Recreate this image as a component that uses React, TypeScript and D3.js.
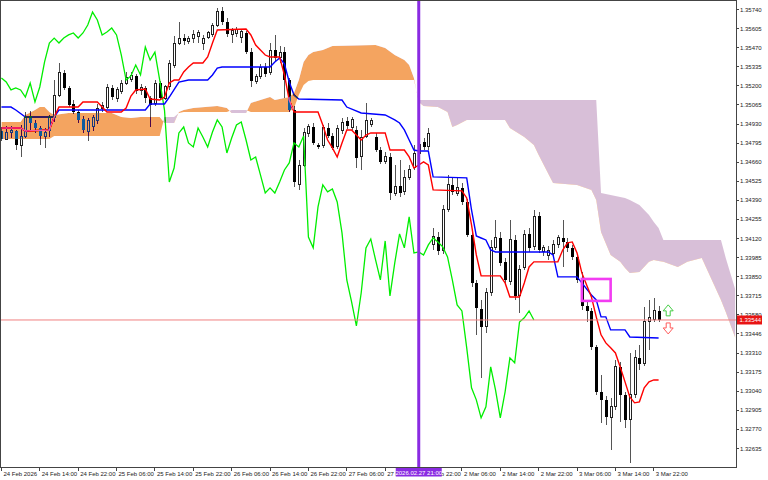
import * as d3 from "d3";

// H1 bars, 24 Feb 2026 06:00 .. 3 Mar 2026 23:00 (bar index 0..137)
const opens = [
  1.34881, 1.34824, 1.34867, 1.34881, 1.34775, 1.34845, 1.34987, 1.34937, 1.34902, 1.34845,
  1.34881, 1.34973, 1.35135, 1.35291, 1.35185, 1.35072, 1.35015, 1.34966, 1.34874, 1.34909,
  1.34952, 1.35043, 1.3505, 1.35185, 1.35114, 1.35157, 1.3522, 1.35248, 1.3527, 1.35164,
  1.35185, 1.35114, 1.35072, 1.3522, 1.35114, 1.35192, 1.35347, 1.35503, 1.35538, 1.35517,
  1.35538, 1.35552, 1.35496, 1.35545, 1.3556, 1.3563, 1.35729, 1.35651, 1.3556, 1.35567,
  1.35545, 1.35574, 1.35439, 1.35234, 1.35263, 1.35333, 1.35291, 1.35453, 1.35397, 1.35439,
  1.35241, 1.35029, 1.34499, 1.3464, 1.3486, 1.34909, 1.34782, 1.34775, 1.34902, 1.34845,
  1.34768, 1.34881, 1.34952, 1.34902, 1.34888, 1.34697, 1.34845, 1.3493, 1.34838, 1.34746,
  1.34662, 1.34697, 1.34442, 1.34492, 1.3445, 1.34549, 1.34619, 1.34725, 1.34803, 1.34768,
  1.34075, 1.34131, 1.34032, 1.34322, 1.34499, 1.34442, 1.34478, 1.34379, 1.34146, 1.33806,
  1.33622, 1.33495, 1.33735, 1.34054, 1.34124, 1.33955, 1.33813, 1.3411, 1.33714, 1.33912,
  1.34153, 1.34061, 1.3428, 1.34025, 1.33997, 1.34011, 1.34075, 1.34124, 1.34096, 1.34054,
  1.3399, 1.33827, 1.33644, 1.33608, 1.33354, 1.33036, 1.32979, 1.32852, 1.3293, 1.33212,
  1.33014, 1.32838, 1.33014, 1.33276, 1.33234, 1.3353, 1.33545, 1.33608,
];
const highs = [
  1.34909, 1.34916, 1.34916, 1.34888, 1.34923, 1.35015, 1.35022, 1.34959, 1.34916, 1.34902,
  1.34994, 1.35241, 1.35362, 1.35312, 1.35199, 1.351, 1.35029, 1.34987, 1.34973, 1.34994,
  1.35072, 1.35086, 1.35213, 1.35206, 1.35192, 1.35241, 1.35298, 1.35298, 1.35284, 1.35213,
  1.35199, 1.35128, 1.35241, 1.35234, 1.35206, 1.35383, 1.35552, 1.35651, 1.35567, 1.35552,
  1.35595, 1.35595, 1.3556, 1.35588, 1.35644, 1.3575, 1.35758, 1.3568, 1.35609, 1.35616,
  1.35602, 1.35588, 1.35468, 1.35284, 1.35355, 1.35362, 1.35503, 1.3556, 1.35482, 1.35475,
  1.35256, 1.35058, 1.34676, 1.34902, 1.3493, 1.34937, 1.34796, 1.34923, 1.34937, 1.34867,
  1.34923, 1.34973, 1.3498, 1.3498, 1.34916, 1.34888, 1.35079, 1.34973, 1.34867, 1.34768,
  1.34732, 1.34725, 1.3464, 1.34676, 1.34605, 1.3464, 1.34782, 1.34817, 1.34831, 1.34902,
  1.34195, 1.34167, 1.34358, 1.3457, 1.34549, 1.34549, 1.34513, 1.344, 1.34167, 1.33827,
  1.33686, 1.33771, 1.3411, 1.34252, 1.34167, 1.33983, 1.34252, 1.34146, 1.33933, 1.34181,
  1.34195, 1.34322, 1.34308, 1.34075, 1.34068, 1.3411, 1.34146, 1.34252, 1.34124, 1.34075,
  1.34011, 1.33884, 1.33686, 1.33629, 1.33368, 1.33156, 1.33007, 1.32993, 1.33262, 1.33248,
  1.33036, 1.33311, 1.33332, 1.33368, 1.33636, 1.33686, 1.337, 1.33644,
];
const lows = [
  1.3481, 1.34817, 1.34831, 1.34746, 1.34697, 1.34831, 1.34888, 1.34867, 1.34782, 1.34761,
  1.34838, 1.34944, 1.35121, 1.35171, 1.3505, 1.35001, 1.34937, 1.34867, 1.3481, 1.34881,
  1.3493, 1.35015, 1.35036, 1.351, 1.35086, 1.35142, 1.35206, 1.35227, 1.35142, 1.35135,
  1.35079, 1.34909, 1.35058, 1.351, 1.351, 1.35171, 1.35326, 1.35489, 1.35489, 1.35496,
  1.35503, 1.35503, 1.35453, 1.35531, 1.35545, 1.35616, 1.3563, 1.35545, 1.35503, 1.35545,
  1.35503, 1.35425, 1.35192, 1.35213, 1.35248, 1.35263, 1.35277, 1.35369, 1.35362, 1.35114,
  1.35015, 1.34485, 1.34464, 1.34626, 1.34838, 1.34782, 1.34754, 1.34761, 1.34831, 1.34746,
  1.34754, 1.3486, 1.34895, 1.34888, 1.34619, 1.34605, 1.34831, 1.34909, 1.34732, 1.34648,
  1.34648, 1.34393, 1.34421, 1.34414, 1.34428, 1.34534, 1.34605, 1.34711, 1.34746, 1.34746,
  1.34039, 1.34004, 1.34011, 1.34308, 1.34428, 1.34421, 1.34358, 1.34131, 1.33778, 1.33439,
  1.33135, 1.33453, 1.33714, 1.34039, 1.33926, 1.33792, 1.33792, 1.33686, 1.33594, 1.33898,
  1.34025, 1.34039, 1.34018, 1.33997, 1.33969, 1.33983, 1.34054, 1.33919, 1.34025, 1.33969,
  1.33806, 1.33615, 1.3353, 1.33332, 1.33014, 1.32816, 1.32802, 1.32625, 1.32908, 1.32823,
  1.32781, 1.32534, 1.32993, 1.33191, 1.33219, 1.33332, 1.3353, 1.3353,
];
const closes = [
  1.34824, 1.34867, 1.34881, 1.34782, 1.34845, 1.34973, 1.34937, 1.34902, 1.34845, 1.34867,
  1.34973, 1.35135, 1.35291, 1.35185, 1.35065, 1.35015, 1.34959, 1.34888, 1.34952, 1.34973,
  1.35043, 1.35058, 1.35185, 1.35121, 1.35171, 1.3522, 1.35256, 1.3527, 1.35164, 1.35185,
  1.35114, 1.35065, 1.3522, 1.35114, 1.35192, 1.35355, 1.35503, 1.35538, 1.35517, 1.35538,
  1.3556, 1.35574, 1.35538, 1.35574, 1.3563, 1.35729, 1.35651, 1.35567, 1.35588, 1.35602,
  1.35581, 1.35439, 1.35234, 1.35263, 1.35333, 1.35284, 1.35453, 1.35397, 1.35439, 1.35241,
  1.35029, 1.3452, 1.3464, 1.34867, 1.34909, 1.34796, 1.34768, 1.34902, 1.34845, 1.34761,
  1.34895, 1.34944, 1.34916, 1.34959, 1.3469, 1.34838, 1.34952, 1.34952, 1.34746, 1.34662,
  1.34697, 1.34442, 1.34485, 1.34442, 1.34549, 1.34605, 1.34725, 1.34782, 1.34768, 1.3486,
  1.34131, 1.34032, 1.34322, 1.34499, 1.3445, 1.34478, 1.34379, 1.34146, 1.33806, 1.33629,
  1.33495, 1.33735, 1.34054, 1.34124, 1.33948, 1.33827, 1.3411, 1.33714, 1.33898, 1.34146,
  1.34054, 1.34273, 1.34039, 1.34054, 1.34032, 1.34075, 1.34124, 1.34096, 1.34054, 1.3399,
  1.33827, 1.33644, 1.33608, 1.33354, 1.33036, 1.32979, 1.32859, 1.3293, 1.33212, 1.33014,
  1.32838, 1.33014, 1.33276, 1.33234, 1.3353, 1.33559, 1.33608, 1.33544,
];

// Chikou span as drawn (bars 0..111)
const chikou = [
  1.35256, 1.35227, 1.35171, 1.35185, 1.35171, 1.35121, 1.3522, 1.35086, 1.35192, 1.35369,
  1.35503, 1.35538, 1.35503, 1.35538, 1.3556, 1.35574, 1.35538, 1.35574, 1.3563, 1.35722,
  1.35666, 1.3556, 1.35581, 1.35609, 1.3556, 1.35418, 1.35241, 1.3527, 1.35347, 1.35277,
  1.35475, 1.35383, 1.35439, 1.35241, 1.35029, 1.3452, 1.34619, 1.34867, 1.34909, 1.34796,
  1.34768, 1.34902, 1.34838, 1.34768, 1.34874, 1.34959, 1.34909, 1.34725, 1.34831, 1.34923,
  1.34944, 1.34817, 1.34676, 1.34697, 1.3457, 1.34442, 1.34478, 1.34442, 1.3452, 1.34605,
  1.34655, 1.34796, 1.34768, 1.34845, 1.34131, 1.34054, 1.34344, 1.34499, 1.3445, 1.34471,
  1.34379, 1.3416, 1.33827, 1.33672, 1.33502, 1.33735, 1.34054, 1.34117, 1.33969, 1.33827,
  1.34103, 1.33714, 1.33948, 1.34153, 1.34054, 1.34273, 1.34018, 1.34025, 1.34004, 1.34075,
  1.34124, 1.34096, 1.34061, 1.3399, 1.33827, 1.33651, 1.33608, 1.33347, 1.33064, 1.32979,
  1.32852, 1.3293, 1.33212, 1.3305, 1.32852, 1.33036, 1.33276, 1.33241, 1.3353, 1.33559,
  1.33608, 1.33544,
];

// Tenkan-sen [bar, price] vertices
const tenkan = [
  [0, 1.34902], [4, 1.34902], [5, 1.34881], [10, 1.34888], [11, 1.3498], [12, 1.3505],
  [16, 1.3505], [17, 1.35086], [20, 1.35086], [21, 1.3505], [22, 1.35015], [25, 1.35015],
  [26, 1.35043], [27, 1.35128], [28, 1.35171], [30, 1.35178], [31, 1.35107], [33, 1.351],
  [34, 1.35121], [35, 1.3522], [36, 1.35241], [37, 1.35241], [38, 1.35298], [39, 1.35333],
  [40, 1.35362], [42, 1.35362], [43, 1.35404], [44, 1.35503], [45, 1.35595], [51, 1.35602],
  [52, 1.3556], [53, 1.35489], [54, 1.35453], [55, 1.35418], [56, 1.35404], [58, 1.35404],
  [59, 1.35277], [60, 1.351], [61, 1.35015], [66, 1.35015], [67, 1.34923], [68, 1.34817],
  [69, 1.34761], [70, 1.34697], [71, 1.34796], [72, 1.34888], [73, 1.34888], [74, 1.34852],
  [75, 1.34817], [76, 1.34852], [77, 1.34867], [80, 1.34867], [81, 1.34746], [84, 1.34746],
  [85, 1.34697], [86, 1.34619], [87, 1.3464], [88, 1.34662], [89, 1.3464], [90, 1.34464],
  [96, 1.34457], [97, 1.34407], [98, 1.34216], [99, 1.34004], [100, 1.33856], [104, 1.33856],
  [105, 1.33806], [106, 1.33707], [108, 1.33707], [109, 1.33806], [110, 1.33919], [111, 1.33955],
  [116, 1.33955], [117, 1.34039], [118, 1.34089], [119, 1.34096], [120, 1.34018], [121, 1.33877],
  [122, 1.33792], [123, 1.33707], [124, 1.33566], [125, 1.33439], [126, 1.33382], [127, 1.33347],
  [128, 1.33311], [129, 1.33212], [130, 1.33106], [131, 1.33], [132, 1.32958], [133, 1.32965],
  [134, 1.33064], [135, 1.33106], [136, 1.3312], [137, 1.3312],
];

// Kijun-sen [bar, price] vertices
const kijun = [
  [0, 1.3505], [2, 1.3505], [3, 1.35029], [5, 1.3498], [11, 1.3498], [12, 1.35029],
  [30, 1.35029], [31, 1.35072], [34, 1.35072], [35, 1.35121], [37, 1.35227], [39, 1.35241],
  [43, 1.35241], [44, 1.35277], [45, 1.35326], [46, 1.35333], [56, 1.35333], [57, 1.35369],
  [58, 1.35397], [59, 1.35355], [60, 1.35227], [61, 1.35135], [62, 1.35107], [71, 1.351],
  [72, 1.3505], [75, 1.35008], [80, 1.34994], [82, 1.34959], [83, 1.34937], [84, 1.34888],
  [85, 1.34817], [86, 1.34746], [87, 1.34739], [89, 1.34739], [90, 1.34556], [97, 1.34549],
  [98, 1.34322], [99, 1.34138], [100, 1.34124], [101, 1.3411], [102, 1.34039], [103, 1.34025],
  [114, 1.34025], [115, 1.34004], [116, 1.33849], [120, 1.33849], [121, 1.33806], [123, 1.33721],
  [124, 1.33686], [125, 1.33566], [126, 1.33566], [127, 1.33474], [130, 1.33474], [131, 1.33424],
  [137, 1.33417],
];

// Kumo [bar, Senkou A, Senkou B]
const kumo = [
  [0, 1.34944, 1.34824], [4, 1.34944, 1.34824], [5, 1.34994, 1.34824], [7, 1.35029, 1.34824],
  [8, 1.3505, 1.34824], [9, 1.3505, 1.34824], [10, 1.35015, 1.34824], [11, 1.34994, 1.34845],
  [14, 1.35008, 1.34845], [23, 1.35008, 1.34845], [25, 1.3498, 1.34845], [27, 1.34973, 1.34845],
  [29, 1.3498, 1.34845], [33, 1.3498, 1.34845], [34, 1.34937, 1.3498], [36, 1.34937, 1.3498],
  [37, 1.35015, 1.35008], [38, 1.35029, 1.35015], [40, 1.35043, 1.35015], [45, 1.35058, 1.35015],
  [47, 1.35043, 1.35015], [48, 1.35008, 1.35029], [51, 1.35008, 1.35029], [52, 1.35079, 1.35015],
  [56, 1.35121, 1.35015], [57, 1.351, 1.35015], [59, 1.35114, 1.35015], [60, 1.35121, 1.35015],
  [61, 1.35149, 1.35043], [62, 1.35241, 1.35135], [63, 1.35369, 1.35206], [64, 1.35418, 1.35234],
  [65, 1.35439, 1.35241], [67, 1.35453, 1.35241], [69, 1.35482, 1.35241], [78, 1.35489, 1.35241],
  [80, 1.35468, 1.35241], [82, 1.35418, 1.35241], [84, 1.35383, 1.35241], [85, 1.35347, 1.35241],
  [86, 1.35256, 1.35241], [87, 1.35086, 1.351], [88, 1.35058, 1.351], [91, 1.3505, 1.351],
  [93, 1.35015, 1.351], [94, 1.34909, 1.351], [95, 1.34923, 1.351], [97, 1.34959, 1.351],
  [105, 1.34959, 1.351], [106, 1.34902, 1.351], [109, 1.34838, 1.351], [111, 1.34782, 1.351],
  [112, 1.34711, 1.351], [115, 1.34513, 1.351], [120, 1.34499, 1.351], [123, 1.34464, 1.351],
  [124, 1.34393, 1.351], [125, 1.34167, 1.34442], [127, 1.34004, 1.34428], [129, 1.33955, 1.34414],
  [130, 1.33912, 1.34407], [131, 1.33877, 1.34393], [133, 1.33884, 1.34358], [135, 1.33955, 1.34287],
  [136, 1.33969, 1.34237], [137, 1.33962, 1.34195], [138, 1.33955, 1.3411], [141, 1.33919, 1.3411],
  [143, 1.33955, 1.3411], [146, 1.33983, 1.3411], [150, 1.33686, 1.3411], [151, 1.33601, 1.33983],
  [153, 1.33417, 1.33757],
];

const priceTicks = [
  "1.35740", "1.35605", "1.35470", "1.35335", "1.35200", "1.35065", "1.34930", "1.34795",
  "1.34660", "1.34525", "1.34390", "1.34255", "1.34120", "1.33985", "1.33850", "1.33715",
  "1.33580", "1.33446", "1.33310", "1.33175", "1.33040", "1.32905", "1.32770", "1.32635",
];
const timeLabels = [
  "24 Feb 2026", "24 Feb 14:00", "24 Feb 22:00", "25 Feb 06:00", "25 Feb 14:00", "25 Feb 22:00",
  "26 Feb 06:00", "26 Feb 14:00", "26 Feb 22:00", "27 Feb 06:00", "27 Feb 14:00", "27 Feb 22:00",
  "2 Mar 06:00", "2 Mar 14:00", "2 Mar 22:00", "3 Mar 06:00", "3 Mar 14:00", "3 Mar 22:00",
];
const timeLabelBars = [0, 8, 16, 24, 32, 40, 48, 56, 64, 72, 80, 88, 96, 104, 112, 120, 128, 136];

const bidPrice = 1.33544;
const bidText = "1.33544";
const markerBar = 87;
const markerText = "2026.02.27 21:00";
const boxBars = [121, 127];
const boxPrices = [1.33834, 1.33679];
const arrowBar = 139;
const buyArrowPrice = 1.33651;
const sellArrowPrice = 1.33523;

const W = 768;
const H = 480;
const PR = 736;
const PB = 467.5;
const FONT = "'Liberation Sans', Arial, sans-serif";

const x = d3.scaleLinear().domain([0, 137]).range([1.4, 658.6]);
const y = d3.scaleLinear().domain([1.32635, 1.3574]).range([448.5, 9.5]);

type KP = { x: number; a: number; b: number };

export default function App() {
  const line = d3.line<number[]>().x((d) => x(d[0])).y((d) => y(d[1]));
  const tenkanPath = line(tenkan) ?? "";
  const kijunPath = line(kijun) ?? "";
  const chikouPath = line(chikou.map((v, i) => [i, v])) ?? "";

  const kp: KP[] = kumo.map((k) => ({ x: x(k[0]), a: y(k[1]), b: y(k[2]) }));
  const band = d3.area<KP>().x((d) => d.x).y0((d) => d.b).y1((d) => d.a)(kp) ?? "";
  const belowA = d3.area<KP>().x((d) => d.x).y0(PB + 5).y1((d) => d.a)(kp) ?? "";
  const aboveA = d3.area<KP>().x((d) => d.x).y0(-5).y1((d) => d.a)(kp) ?? "";

  const ax = x(arrowBar);
  const up = y(buyArrowPrice);
  const dn = y(sellArrowPrice);
  const upArrow = `M${ax},${up} L${ax + 5},${up + 6} L${ax + 2},${up + 6} L${ax + 2},${up + 11} L${ax - 2},${up + 11} L${ax - 2},${up + 6} L${ax - 5},${up + 6} Z`;
  const dnArrow = `M${ax - 2},${dn} L${ax + 2},${dn} L${ax + 2},${dn + 5} L${ax + 5},${dn + 5} L${ax},${dn + 11} L${ax - 5},${dn + 5} L${ax - 2},${dn + 5} Z`;

  const mx = x(markerBar);
  const bidY = y(bidPrice);

  return (
    <svg
      width={W}
      height={H}
      style={{ position: "absolute", left: 0, top: 0 }}
      fontFamily={FONT}
    >
      <defs>
        <clipPath id="plot">
          <rect x={0} y={0} width={PR} height={PB} />
        </clipPath>
        <clipPath id="kumo-up">
          <path d={belowA} />
        </clipPath>
        <clipPath id="kumo-down">
          <path d={aboveA} />
        </clipPath>
      </defs>
      <rect width={W} height={H} fill="#fff" />

      <g clipPath="url(#plot)">
        <rect width={PR} height={PB} fill="#fff" />

        {/* candles */}
        <g shapeRendering="crispEdges">
          {opens.map((o, i) => {
            const c = closes[i];
            const cx = Math.round(x(i));
            const top = y(Math.max(o, c));
            const bot = y(Math.min(o, c));
            const h = Math.max(bot - top, 1);
            return (
              <g key={i}>
                <line x1={cx + 0.5} x2={cx + 0.5} y1={y(highs[i])} y2={y(lows[i])} stroke="#555" />
                {c >= o ? (
                  <rect x={cx - 0.5} y={top} width={2} height={h} fill="#fff" stroke="#222" />
                ) : (
                  <rect x={cx - 1} y={top} width={3} height={h} fill="#000" />
                )}
              </g>
            );
          })}
        </g>

        {/* ichimoku lines */}
        <path d={chikouPath} fill="none" stroke="#00ee00" strokeWidth={1.3} />
        <path d={kijunPath} fill="none" stroke="#0000ff" strokeWidth={1.4} />
        <path d={tenkanPath} fill="none" stroke="#ff0000" strokeWidth={1.4} />

        {/* kumo, drawn inverting like the terminal does */}
        <path d={band} fill="#0b5b9f" clipPath="url(#kumo-up)" style={{ mixBlendMode: "difference" }} />
        <path d={band} fill="#274027" clipPath="url(#kumo-down)" style={{ mixBlendMode: "difference" }} />

        {/* bid line */}
        <line x1={0} x2={PR} y1={bidY} y2={bidY} stroke="#f08080" strokeWidth={1} />

        {/* vertical marker */}
        <line x1={mx} x2={mx} y1={0} y2={PB} stroke="#8a2be2" strokeWidth={3} />

        {/* rectangle object */}
        <rect
          x={x(boxBars[0])}
          y={y(boxPrices[0])}
          width={x(boxBars[1]) - x(boxBars[0])}
          height={y(boxPrices[1]) - y(boxPrices[0])}
          fill="none"
          stroke="#f23cf2"
          strokeWidth={2.6}
        />

        {/* arrows */}
        <path d={upArrow} fill="#fff" stroke="#44cc44" strokeWidth={1} />
        <path d={dnArrow} fill="#fff" stroke="#ff5a5a" strokeWidth={1} />
      </g>

      {/* frame */}
      <g shapeRendering="crispEdges" stroke="#444">
        <line x1={0} x2={PR} y1={0.5} y2={0.5} />
        <line x1={0.5} x2={0.5} y1={0} y2={PB} />
        <line x1={PR + 0.5} x2={PR + 0.5} y1={0} y2={PB} />
        <line x1={0} x2={PR + 1} y1={PB} y2={PB} />
      </g>

      {/* price axis */}
      {priceTicks.map((t) => {
        const ty = y(parseFloat(t));
        return (
          <g key={t}>
            <line x1={PR} x2={PR + 3} y1={ty} y2={ty} stroke="#444" shapeRendering="crispEdges" />
            <text x={740} y={ty} dominantBaseline="central" fontSize={6} fill="#222">
              {t}
            </text>
          </g>
        );
      })}
      <rect x={737} y={bidY - 4.5} width={25} height={9} fill="#e81414" />
      <text x={739.5} y={bidY} dominantBaseline="central" fontSize={6} fill="#fff">
        {bidText}
      </text>

      {/* time axis */}
      {timeLabels.map((t, i) => {
        const tx = x(timeLabelBars[i]);
        return (
          <g key={t}>
            <line x1={tx} x2={tx} y1={PB} y2={PB + 3.5} stroke="#444" shapeRendering="crispEdges" />
            <text x={tx + 2} y={475.5} fontSize={6} fill="#222">
              {t}
            </text>
          </g>
        );
      })}
      <rect x={mx - 23} y={468} width={46} height={8.5} fill="#8a2be2" />
      <text x={mx} y={475.2} fontSize={6} fill="#fff" textAnchor="middle">
        {markerText}
      </text>
    </svg>
  );
}
